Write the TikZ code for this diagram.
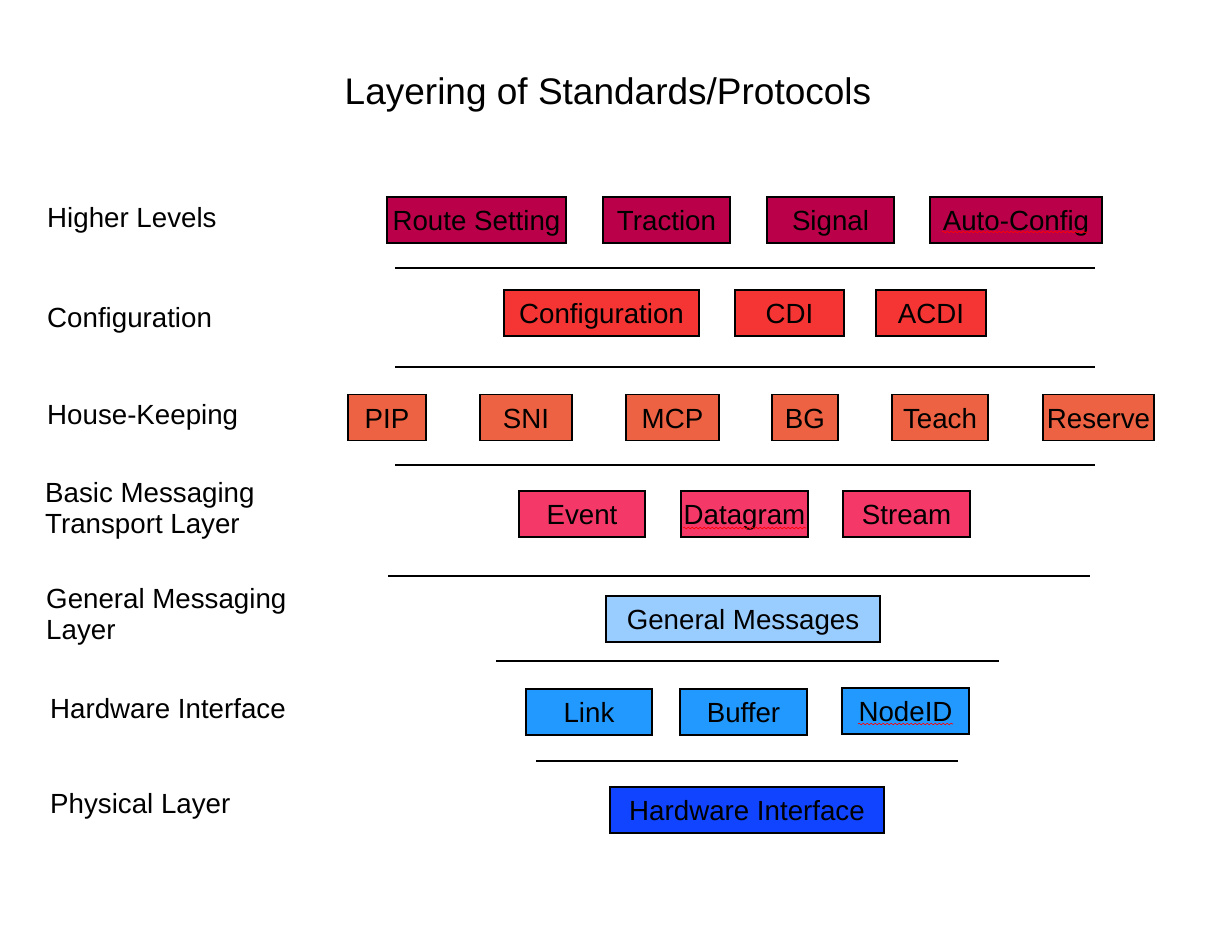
\documentclass[tikz,border=0pt]{standalone}
\usepackage{fontspec}
\setmainfont{Liberation Sans}
\usetikzlibrary{decorations.pathmorphing}

\definecolor{higher}{RGB}{186,0,72}
\definecolor{config}{RGB}{245,52,52}
\definecolor{house}{RGB}{236,98,66}
\definecolor{basic}{RGB}{244,56,104}
\definecolor{general}{RGB}{153,204,255}
\definecolor{hwif}{RGB}{34,153,255}
\definecolor{phys}{RGB}{17,68,255}

\tikzset{
	layerbox/.style={draw=black, line width=1.3pt, inner sep=0pt, minimum height=46,
		text height=23.5pt, text depth=2.5pt, font=\fontsize{27.7}{32}\selectfont},
	layername/.style={anchor=west, inner sep=0pt, align=left,
		font=\fontsize{27.7}{31}\selectfont},
	divider/.style={line width=1.1pt},
	spell/.style={red, line width=0.6pt, decorate, decoration={snake, amplitude=0.8pt, segment length=4pt}}
}

\begin{document}
\begin{tikzpicture}[x=1pt, y=-1pt]
		%%%%% START %%%%%
		\useasboundingbox[fill=white] (0, 0) rectangle (1232, 952);
		
		\node[inner sep=0pt, font=\fontsize{37}{44}\selectfont] (title) at (608, 95) {Layering of Standards/Protocols};
		
		\node[layername] (lhigher) at (47, 220) {Higher Levels};
		\node[layername] (lconfig) at (47, 320) {Configuration};
		\node[layername] (lhouse) at (47, 417) {House-Keeping};
		\node[layername] (lbasic) at (45, 511) {Basic Messaging\\Transport Layer};
		\node[layername] (lgeneral) at (46, 617) {General Messaging\\Layer};
		\node[layername] (lhw) at (50, 709) {Hardware Interface};
		\node[layername] (lphys) at (50, 806) {Physical Layer};
		
		\node[layerbox, fill=higher, minimum width=179] (route) at (476.5, 220) {Route Setting};
		\node[layerbox, fill=higher, minimum width=127] (traction) at (666.5, 220) {Traction};
		\node[layerbox, fill=higher, minimum width=127] (signal) at (830.5, 220) {Signal};
		\node[layerbox, fill=higher, minimum width=172] (autoconf) at (1016, 220) {Auto-Config};
		\draw[spell] (942, 232) -- (1088, 232);
		
		\draw[divider] (395, 268) -- (1095, 268);
		
		\node[layerbox, fill=config, minimum width=195] (configuration) at (601.5, 313) {Configuration};
		\node[layerbox, fill=config, minimum width=109] (cdi) at (789.5, 313) {CDI};
		\node[layerbox, fill=config, minimum width=110] (acdi) at (931, 313) {ACDI};
		
		\draw[divider] (395, 367) -- (1095, 367);
		
		\node[layerbox, fill=house, minimum width=78] (pip) at (387, 417.5) {PIP};
		\node[layerbox, fill=house, minimum width=92] (sni) at (526, 417.5) {SNI};
		\node[layerbox, fill=house, minimum width=93] (mcp) at (672.5, 417.5) {MCP};
		\node[layerbox, fill=house, minimum width=66] (bg) at (805, 417.5) {BG};
		\node[layerbox, fill=house, minimum width=96] (teach) at (940, 417.5) {Teach};
		\node[layerbox, fill=house, minimum width=111] (reserve) at (1098.5, 417.5) {Reserve};
		
		\draw[divider] (395, 465) -- (1095, 465);
		
		\node[layerbox, fill=basic, minimum width=126] (event) at (582, 514) {Event};
		\node[layerbox, fill=basic, minimum width=127] (datagram) at (744.5, 514) {Datagram};
		\node[layerbox, fill=basic, minimum width=127] (stream) at (906.5, 514) {Stream};
		\draw[spell] (683, 528) -- (806, 528);
		
		\draw[divider] (388, 576) -- (1090, 576);
		
		\node[layerbox, fill=general, minimum width=274] (genmsg) at (743, 619) {General Messages};
		
		\draw[divider] (496, 661) -- (999, 661);
		
		\node[layerbox, fill=hwif, minimum width=126] (link) at (589, 712) {Link};
		\node[layerbox, fill=hwif, minimum width=127] (buffer) at (743.5, 712) {Buffer};
		\node[layerbox, fill=hwif, minimum width=127] (nodeid) at (905.5, 711) {NodeID};
		\draw[spell] (858, 724) -- (953, 724);
		
		\draw[divider] (536, 761) -- (958, 761);
		
		\node[layerbox, fill=phys, minimum width=274] (hardware) at (747, 810) {Hardware Interface};
		%%%%% END %%%%%
	\end{tikzpicture}
\end{document}
